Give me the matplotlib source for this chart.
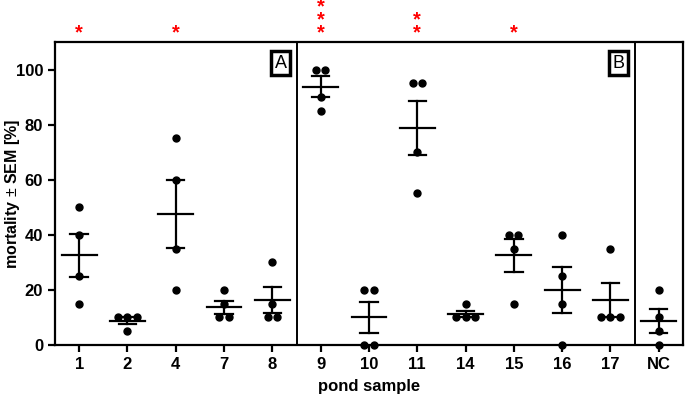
import numpy as np
import matplotlib.pyplot as plt

plt.rcParams["font.family"] = ["Liberation Sans", "DejaVu Sans"]
plt.rcParams["mathtext.fontset"] = "custom"
plt.rcParams["mathtext.rm"] = "Liberation Sans"

samples = ["1", "2", "4", "7", "8", "9", "10", "11", "14", "15", "16", "17", "NC"]
mortality = [
    [50, 40, 25, 15],
    [10, 10, 10, 5],
    [75, 60, 35, 20],
    [20, 15, 10, 10],
    [30, 15, 10, 10],
    [100, 100, 90, 85],
    [20, 20, 0, 0],
    [95, 95, 70, 55],
    [15, 10, 10, 10],
    [40, 40, 35, 15],
    [40, 25, 15, 0],
    [35, 10, 10, 10],
    [20, 10, 5, 0],
]
stars = [1, 0, 1, 0, 0, 3, 0, 2, 0, 1, 0, 0, 0]

fig = plt.figure(figsize=(6.85, 3.94), dpi=100)
ax = fig.add_axes([0.0803, 0.1244, 0.9167, 0.769])

for i, vals in enumerate(mortality):
    vals = np.array(vals, dtype=float)
    mean = vals.mean()
    sem = vals.std(ddof=1) / np.sqrt(len(vals))
    # spread dots with equal values side by side
    for v in np.unique(vals):
        n = int((vals == v).sum())
        offs = (np.arange(n) - (n - 1) / 2) * 0.19
        ax.plot(i + offs, [v] * n, "o", color="black", ms=5, zorder=3, clip_on=False)
    ax.plot([i - 0.36, i + 0.36], [mean, mean], color="black", lw=1.6)
    ax.plot([i, i], [mean - sem, mean + sem], color="black", lw=1.6)
    for e in (mean - sem, mean + sem):
        ax.plot([i - 0.18, i + 0.18], [e, e], color="black", lw=1.6)
    if stars[i]:
        ax.text(i, 110.0, "\n".join(["*"] * stars[i]), color="red", fontsize=14.5,
                fontweight="bold", linespacing=0.6, ha="center", va="bottom",
                clip_on=False)

ax.axvline(4.5, color="black", lw=1.4)
ax.axvline(11.5, color="black", lw=1.4)

box = dict(boxstyle="square,pad=0.2", facecolor="white", edgecolor="black", linewidth=2.5)
ax.text(4.17, 102.3, "A", fontsize=13, ha="center", va="center", bbox=box)
ax.text(11.17, 102.3, "B", fontsize=13, ha="center", va="center", bbox=box)

ax.set_xlim(-0.5, 12.5)
ax.set_ylim(0, 110)
ax.set_xticks(range(len(samples)))
ax.set_xticklabels(samples)
ax.set_yticks([0, 20, 40, 60, 80, 100])
for s in ax.spines.values():
    s.set_linewidth(1.6)
ax.tick_params(direction="out", length=5, width=1.6, labelsize=12)
for lab in ax.get_xticklabels() + ax.get_yticklabels():
    lab.set_fontweight("bold")
ax.set_xlabel("pond sample", fontsize=12, fontweight="bold", labelpad=5)
ax.set_ylabel(r"mortality $\pm$ SEM [%]", fontsize=11.5, fontweight="bold")
ax.yaxis.set_label_coords(-0.052, 0.5)

fig.savefig("out.png", dpi=100)
